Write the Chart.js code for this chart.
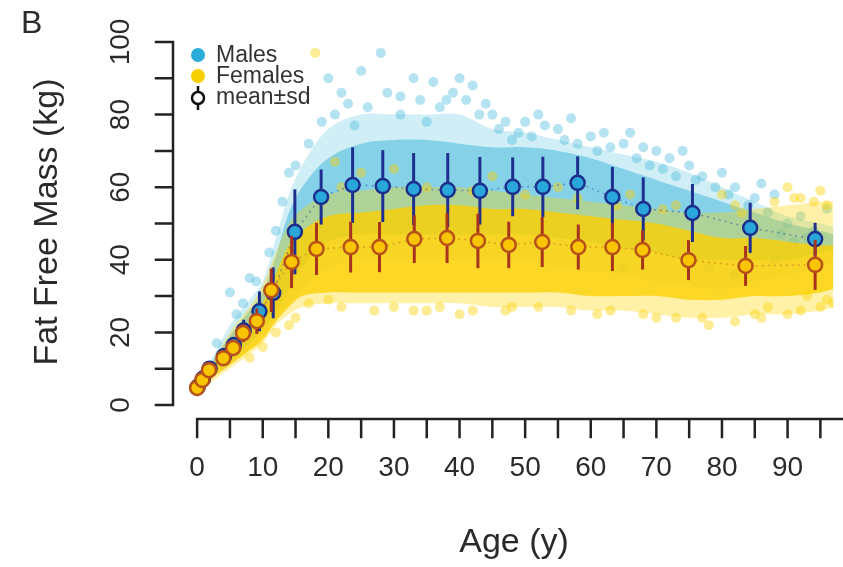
<!DOCTYPE html>
<html lang="en">
<head>
  <meta charset="UTF-8">
  <title>Fat Free Mass by Age</title>
  <script src="https://cdn.jsdelivr.net/npm/chart.js"></script>
  <style>
    body {
      margin: 0;
      background: #fff;
    }
    canvas {
      display: block;
    }
  </style>
</head>
<body>
  <canvas id="chart" width="843" height="567"></canvas>

  <script>
    // mean +- sd per age group
    const maleAge = [0.1, 0.9, 1.9, 4.1, 5.6, 7.1, 9.5, 11.6, 14.9, 18.9, 23.7, 28.3, 33, 38.2, 43.1, 48.1, 52.7, 58, 63.3, 68, 75.5, 84.3, 94.2];
    const maleMean = [5, 7.3, 10, 13.5, 16.5, 20.5, 25.8, 30.9, 47.7, 57.3, 60.6, 60.3, 59.5, 59.2, 59, 60.1, 60.1, 61.2, 57.3, 54, 52.9, 48.8, 45.7];
    const maleSd = [0.8, 1, 1.3, 1.6, 2.2, 3, 5.5, 7, 11.7, 7.6, 10.4, 9.9, 9.9, 10.2, 9.3, 8.1, 8.3, 7.3, 8.3, 8.7, 8, 6.9, 4.5];

    const femaleAge = [0, 0.8, 1.8, 4, 5.5, 7, 9.1, 11.3, 14.4, 18.2, 23.4, 27.8, 33.1, 38.1, 42.8, 47.5, 52.6, 58.1, 63.3, 67.9, 74.9, 83.6, 94.2];
    const femaleMean = [4.7, 6.9, 9.6, 12.9, 15.7, 19.8, 23.1, 31.6, 39.4, 43, 43.5, 43.5, 45.7, 46, 45.2, 44.1, 44.9, 43.5, 43.5, 42.7, 39.9, 38.3, 38.6];
    const femaleSd = [0.8, 1, 1.2, 1.5, 2, 2.5, 3.5, 6, 7.2, 7.2, 7, 6.9, 6.6, 6.9, 7.5, 6.4, 6.9, 6.2, 6.6, 5.4, 5.5, 5.5, 6.9];

    // extent of the individual data cloud (outer = sparse, core = dense)
    const cloudAge = [0, 2, 5, 8, 10, 12, 14, 16, 20, 25, 30, 35, 40, 45, 50, 55, 60, 65, 70, 75, 80, 85, 90, 95, 97];
    const maleOuterLow  = [2, 7, 11, 16, 20, 24, 28, 32, 38, 40, 40, 40, 40, 40, 40, 38, 37, 36, 34, 33, 32, 34, 36, 38, 40];
    const maleOuterHigh = [6, 12, 22, 29, 34, 46, 58, 66, 76, 80, 80, 80, 80, 76, 75, 73, 71, 69, 67, 64, 60, 56, 52, 50, 49];
    const maleCoreLow   = [3, 8, 12, 17, 21, 26, 32, 38, 45, 47, 47, 47, 47, 47, 47, 46, 45, 43, 42, 40, 40, 40, 40, 42, 43];
    const maleCoreHigh  = [5, 11, 19, 26, 31, 41, 53, 60, 68, 72, 73, 73, 72, 71, 71, 70, 68, 65, 62, 59, 56, 53, 50, 48, 47];
    const femaleOuterLow  = [2, 6, 10, 14, 17, 22, 25, 27, 28, 28, 28, 28, 28, 27, 27, 27, 26, 26, 25, 24, 24, 25, 25, 26, 27];
    const femaleOuterHigh = [6, 11, 20, 27, 33, 42, 50, 54, 58, 59, 60, 60, 60, 59, 58, 57, 56, 55, 54, 53, 53, 54, 55, 56, 56];
    const femaleCoreLow   = [3, 7, 11, 15, 18, 23, 27, 30, 31, 31, 31, 31, 31, 31, 31, 31, 30, 30, 30, 29, 29, 30, 30, 31, 32];
    const femaleCoreHigh  = [5, 10, 17, 23, 28, 36, 44, 48, 52, 53, 54, 55, 55, 54, 54, 53, 52, 51, 50, 48, 46, 46, 45, 44, 44];

    // scattered individual points around the edges of the cloud
    const maleDotX = [28, 25, 20, 22, 33, 36, 40, 42, 45, 47, 50, 55, 57, 60, 62, 65, 68, 70, 72, 75, 77, 80, 82, 85, 88, 89, 92, 93, 96, 5, 8, 12, 14, 17, 3, 31, 38, 44, 52, 66, 74, 86, 91,
      19, 21, 23, 26, 29, 31, 34, 37, 39, 41, 43, 46, 49, 51, 53, 56, 58, 61, 63, 67, 69, 71, 73, 76, 79, 81, 84, 87, 90, 94, 15, 13, 11, 9, 7, 6, 78, 82, 88, 65, 24, 35, 48];
    const maleDotY = [97, 92, 90, 86, 90, 89, 90, 88, 80, 78, 78, 76, 79, 74, 75, 72, 71, 70, 68, 66, 63, 64, 60, 57, 58, 47, 52, 46, 54, 31, 35, 48, 64, 72, 17, 85, 84, 83, 80, 75, 70, 61, 45,
      78, 80, 83, 82, 86, 80, 84, 82, 86, 84, 80, 76, 75, 74, 77, 73, 72, 70, 71, 68, 66, 65, 63, 62, 60, 58, 55, 53, 50, 48, 66, 56, 42, 34, 28, 25, 38, 36, 40, 38, 77, 78, 73];
    const femaleDotX = [18, 21, 30, 45, 55, 66, 80, 90, 91, 95, 96, 86, 90, 78, 70, 61, 48, 40, 30, 20, 15, 10, 8, 73, 83, 93, 97, 96, 87, 25, 35,
      17, 22, 27, 33, 37, 42, 47, 52, 57, 63, 68, 73, 77, 82, 85, 92, 95, 12, 14, 22, 28, 35, 42, 50, 58, 64, 71, 76, 82, 88, 92, 94];
    const femaleDotY = [97, 67, 65, 63, 60, 58, 58, 60, 57, 59, 55, 24, 25, 22, 24, 25, 27, 25, 27, 29, 24, 16, 13, 55, 53, 30, 28, 29, 27, 64, 26,
      28, 27, 26, 26, 27, 26, 26, 27, 26, 26, 25, 24, 24, 23, 25, 26, 27, 20, 22, 60, 61, 60, 59, 58, 57, 55, 54, 53, 55, 56, 57, 56];

    const xTicks = [0, 10, 20, 30, 40, 50, 60, 70, 80, 90];
    const yTicks = [0, 20, 40, 60, 80, 100];

    const pts = (xs, ys) => xs.map((x, i) => ({ x: x, y: ys[i] }));

    function band(low, high, color, order) {
      return [
        { type: 'line', data: pts(cloudAge, low), borderWidth: 0, pointRadius: 0, tension: 0.35, fill: false, order: order },
        { type: 'line', data: pts(cloudAge, high), borderWidth: 0, pointRadius: 0, tension: 0.35, fill: '-1', backgroundColor: color, order: order }
      ];
    }

    const datasets = [
      ...band(maleOuterLow, maleOuterHigh, 'rgba(70, 190, 222, 0.26)', 20),
      ...band(maleCoreLow, maleCoreHigh, 'rgba(60, 182, 218, 0.5)', 19),
      { data: pts(maleDotX, maleDotY), pointRadius: 5, pointBorderWidth: 0, pointBackgroundColor: 'rgba(60, 182, 218, 0.38)', order: 18 },
      ...band(femaleOuterLow, femaleOuterHigh, 'rgba(255, 214, 0, 0.34)', 17),
      ...band(femaleCoreLow, femaleCoreHigh, 'rgba(252, 208, 0, 0.78)', 16),
      { data: pts(femaleDotX, femaleDotY), pointRadius: 5, pointBorderWidth: 0, pointBackgroundColor: 'rgba(252, 210, 0, 0.42)', order: 15 },
      {
        label: 'Males', data: pts(maleAge, maleMean), errorSd: maleSd, barColor: '#1f2f8f',
        showLine: true, borderColor: 'rgba(40, 60, 160, 0.45)', borderWidth: 1.5, borderDash: [2, 4],
        pointRadius: 7, pointBorderWidth: 2.5, pointBackgroundColor: '#2aa7da', pointBorderColor: '#1c2f8c', order: 2
      },
      {
        label: 'Females', data: pts(femaleAge, femaleMean), errorSd: femaleSd, barColor: '#a8341e',
        showLine: true, borderColor: 'rgba(190, 90, 30, 0.45)', borderWidth: 1.5, borderDash: [2, 4],
        pointRadius: 7, pointBorderWidth: 2.5, pointBackgroundColor: '#f8c500', pointBorderColor: '#b8501a', order: 1
      }
    ];

    // vertical sd bars, drawn just under each mean series
    const errorBars = {
      id: 'errorBars',
      beforeDatasetDraw(chart, args) {
        const ds = chart.data.datasets[args.index];
        if (!ds.errorSd) return;
        const xs = chart.scales.x, ys = chart.scales.y, c = chart.ctx;
        c.save();
        c.strokeStyle = ds.barColor;
        c.lineWidth = 3;
        ds.data.forEach((p, i) => {
          const px = xs.getPixelForValue(p.x);
          c.beginPath();
          c.moveTo(px, ys.getPixelForValue(p.y - ds.errorSd[i]));
          c.lineTo(px, ys.getPixelForValue(p.y + ds.errorSd[i]));
          c.stroke();
        });
        c.restore();
      }
    };

    // R style detached axes, titles, panel letter and legend
    const rAxes = {
      id: 'rAxes',
      afterDraw(chart) {
        const xs = chart.scales.x, ys = chart.scales.y, c = chart.ctx;
        const axisX = 173, axisY = 419;
        c.save();
        c.strokeStyle = '#222';
        c.fillStyle = '#2a2a2a';
        c.lineWidth = 2.5;
        c.lineCap = 'square';

        // y axis
        c.beginPath();
        c.moveTo(axisX, ys.getPixelForValue(0));
        c.lineTo(axisX, ys.getPixelForValue(100));
        for (let v = 0; v <= 100; v += 10) {
          const py = ys.getPixelForValue(v);
          c.moveTo(axisX, py);
          c.lineTo(axisX - 17, py);
        }
        c.stroke();

        // x axis
        c.beginPath();
        c.moveTo(xs.getPixelForValue(0), axisY);
        c.lineTo(843, axisY);
        for (let v = 0; v <= 95; v += 5) {
          const px = xs.getPixelForValue(v);
          c.moveTo(px, axisY);
          c.lineTo(px, axisY + 18);
        }
        c.stroke();

        c.font = '28px "Liberation Sans", Arial, sans-serif';
        c.textAlign = 'center';
        c.textBaseline = 'middle';
        xTicks.forEach(v => c.fillText(String(v), xs.getPixelForValue(v), 468));
        yTicks.forEach(v => {
          c.save();
          c.translate(121, ys.getPixelForValue(v));
          c.rotate(-Math.PI / 2);
          c.fillText(String(v), 0, 0);
          c.restore();
        });

        c.font = '34px "Liberation Sans", Arial, sans-serif';
        c.fillText('Age (y)', 514, 543);
        c.save();
        c.translate(48, 222);
        c.rotate(-Math.PI / 2);
        c.fillText('Fat Free Mass (kg)', 0, 0);
        c.restore();

        c.font = '32px "Liberation Sans", Arial, sans-serif';
        c.textAlign = 'left';
        c.textBaseline = 'alphabetic';
        c.fillText('B', 21, 33);

        // legend
        c.font = '23px "Liberation Sans", Arial, sans-serif';
        c.textBaseline = 'middle';
        c.fillStyle = '#29acd8';
        c.beginPath(); c.arc(198, 55, 7, 0, Math.PI * 2); c.fill();
        c.fillStyle = '#f8cf00';
        c.beginPath(); c.arc(198, 76, 7, 0, Math.PI * 2); c.fill();
        c.strokeStyle = '#111';
        c.lineWidth = 2.5;
        c.lineCap = 'butt';
        c.beginPath(); c.moveTo(198, 86); c.lineTo(198, 110); c.stroke();
        c.fillStyle = '#fff';
        c.beginPath(); c.arc(198, 98, 6, 0, Math.PI * 2); c.fill(); c.stroke();
        c.fillStyle = '#333';
        c.fillText('Males', 216, 56);
        c.fillText('Females', 216, 77);
        c.fillText('mean\u00b1sd', 216, 98);
        c.restore();
      }
    };

    new Chart(document.getElementById('chart').getContext('2d'), {
      type: 'scatter',
      data: { datasets },
      options: {
        responsive: false,
        animation: false,
        layout: { padding: { left: 184, right: 8.7, top: 42, bottom: 147.5 } },
        scales: {
          x: { type: 'linear', min: -2, max: 97, display: false },
          y: { type: 'linear', min: -4, max: 100, display: false }
        },
        plugins: {
          legend: { display: false },
          tooltip: { enabled: false }
        }
      },
      plugins: [errorBars, rAxes]
    });
  </script>
</body>
</html>
